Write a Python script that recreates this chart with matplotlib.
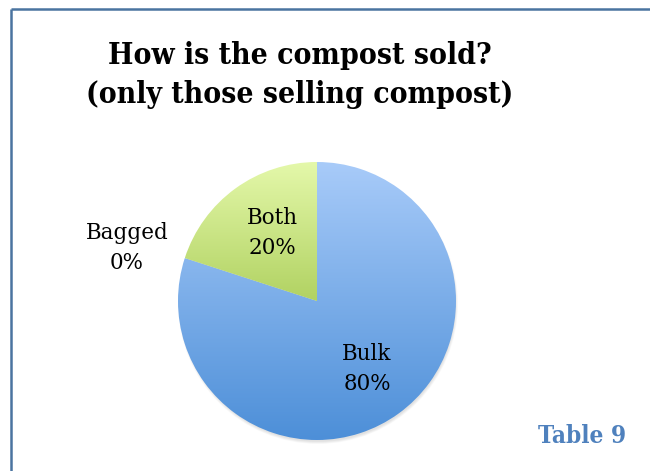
import numpy as np
import matplotlib
matplotlib.use("Agg")
import matplotlib.pyplot as plt
from matplotlib.colors import LinearSegmentedColormap

# how the compost is sold
labels = ["Bulk", "Both", "Bagged"]
shares = [80, 20, 0]
top_colors = ["#a8cbf9", "#e4f8aa", "#e4f8aa"]
bottom_colors = ["#4d8fd8", "#b1d262", "#b1d262"]

W, H = 650, 471
fig = plt.figure(figsize=(W / 100, H / 100), dpi=100)
ax = fig.add_axes([0, 0, 1, 1])
ax.set_xlim(0, W)
ax.set_ylim(0, H)
ax.set_aspect("equal")
ax.axis("off")

cx, cy, r = 317, H - 301, 139

wedges, _ = ax.pie(shares, center=(cx, cy), radius=r, startangle=90,
                   counterclock=False, frame=True,
                   wedgeprops=dict(linewidth=0))
ax.set_xlim(0, W)
ax.set_ylim(0, H)
ax.axis("off")

# soft shadow under the pie
for k in range(6):
    sh = plt.Circle((cx + 1, cy - 3), r + 1 - k * 0.5, color="black",
                    alpha=0.02, zorder=0.5, lw=0)
    ax.add_patch(sh)

# vertical gradient fill for each wedge
for w, c0, c1, v in zip(wedges, top_colors, bottom_colors, shares):
    if v == 0:
        w.set_visible(False)
        continue
    bb = w.get_path().get_extents(w.get_transform())
    inv = ax.transData.inverted()
    (x0, y0), (x1, y1) = inv.transform([[bb.x0, bb.y0], [bb.x1, bb.y1]])
    cmap = LinearSegmentedColormap.from_list("g", [c1, c0])
    grad = np.linspace(0, 1, 256).reshape(-1, 1)
    im = ax.imshow(grad, cmap=cmap, origin="lower", extent=[x0, x1, y0, y1],
                   aspect="auto", zorder=2, interpolation="bilinear")
    im.set_clip_path(w)
    w.set_facecolor("none")

lab_font = dict(family="DejaVu Serif", fontsize=15.5, color="black",
                ha="center", va="center", linespacing=1.5)
ax.text(367, H - 369, f"{labels[0]}\n{shares[0]}%", **lab_font, zorder=5)
ax.text(272, H - 233, f"{labels[1]}\n{shares[1]}%", **lab_font, zorder=5)
ax.text(127, H - 248, f"{labels[2]}\n{shares[2]}%", **lab_font, zorder=5)

ax.text(300, H - 75, "How is the compost sold?\n(only those selling compost)",
        family="DejaVu Serif", fontstretch="condensed", fontweight="bold",
        fontsize=21.5, ha="center", va="center", linespacing=1.4, zorder=5)

ax.text(582, H - 436, "Table 9", family="DejaVu Serif",
        fontstretch="condensed", fontweight="bold",
        fontsize=17.5, color="#4f81bd", ha="center", va="center")

# frame lines along the top and left edges
ax.plot([11, W], [H - 9, H - 9], color="#4a74a0", lw=1.8, solid_capstyle="butt")
ax.plot([11, 11], [H - 9, 0], color="#4a74a0", lw=1.8, solid_capstyle="butt")

fig.savefig("out.png", dpi=100)
